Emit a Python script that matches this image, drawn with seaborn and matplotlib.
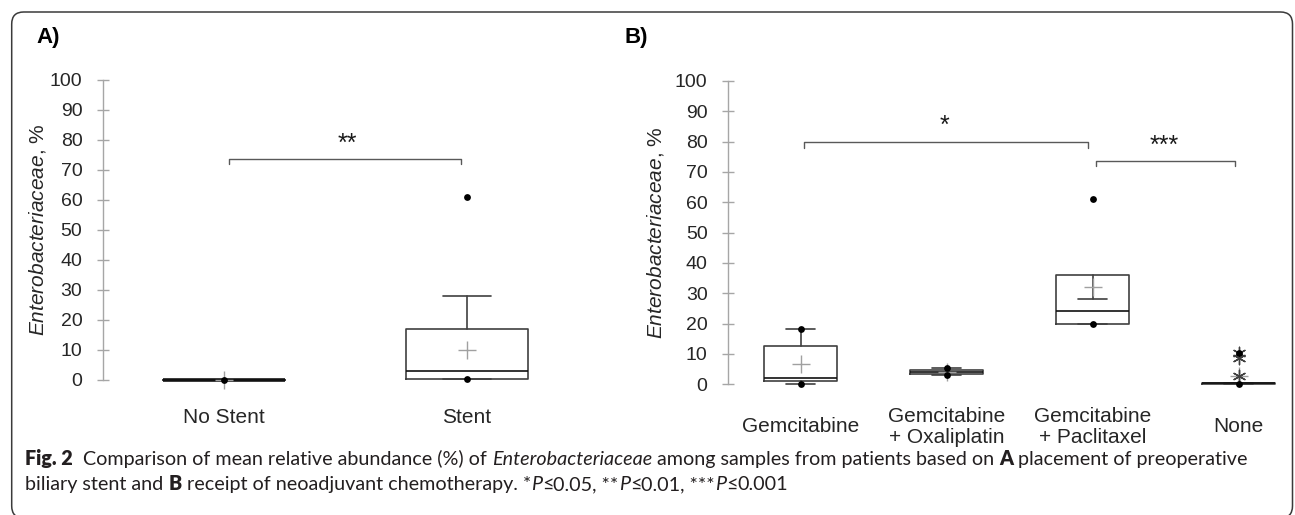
import numpy as np
import matplotlib
matplotlib.use("Agg")
import matplotlib.pyplot as plt
import seaborn as sns
from matplotlib.patches import FancyBboxPatch

# ---------------- data ----------------
# Panel A: preoperative biliary stent
a_categories = ["No Stent", "Stent"]
a_q1 = [0.0, 0.3]
a_median = [0.0, 3.0]
a_q3 = [0.0, 17.0]
a_whislo = [0.0, 0.3]
a_whishi = [0.0, 28.0]
a_mean = [0.0, 10.0]
a_point_cats = ["No Stent", "Stent", "Stent"]
a_point_vals = [0.0, 0.3, 61.0]

# Panel B: neoadjuvant chemotherapy
b_categories = ["Gemcitabine", "Gemcitabine\n+ Oxaliplatin", "Gemcitabine\n+ Paclitaxel", "None"]
b_q1 = [1.0, 3.5, 19.9, 0.2]
b_median = [2.2, 4.0, 24.2, 0.3]
b_q3 = [12.5, 4.6, 36.0, 0.4]
b_whislo = [0.0, 3.2, 19.9, 0.0]
b_whishi = [18.3, 5.3, 28.0, 0.5]
b_mean = [6.8, 4.2, 32.2, 2.7]
b_point_cats = ["Gemcitabine", "Gemcitabine", "Gemcitabine\n+ Oxaliplatin", "Gemcitabine\n+ Oxaliplatin",
                "Gemcitabine\n+ Paclitaxel", "Gemcitabine\n+ Paclitaxel", "None", "None"]
b_point_vals = [0.0, 18.3, 3.2, 5.3, 19.9, 61.0, 0.0, 10.4]
b_star_cats = ["None", "None", "None"]
b_star_vals = [10.2, 8.6, 2.7]

y_ticks = [0, 10, 20, 30, 40, 50, 60, 70, 80, 90, 100]

# significance annotations: (x_start, x_end, y_top, label, label_x, label_y)
a_sig = [(0.02, 0.975, 73.8, "**", 0.506, 76.4)]
b_sig = [(0.02, 1.97, 79.8, "*", 0.988, 83.0),
         (2.02, 2.973, 73.7, "***", 2.488, 76.4)]

# ---------------- style ----------------
sns.set_theme(style="white")
plt.rcParams["font.family"] = ["Liberation Sans", "DejaVu Sans"]
plt.rcParams["mathtext.fontset"] = "custom"
plt.rcParams["mathtext.it"] = "Liberation Sans:italic"
plt.rcParams["mathtext.rm"] = "Liberation Sans"

W, H = 1295, 515
fig = plt.figure(figsize=(W / 100, H / 100), dpi=100)
fig.patch.set_facecolor("white")

AX_GRAY = "#a6a6a6"
BOX_COL = "#404040"
TXT = "#262626"


def px_axes(left, right, bottom, top):
    return fig.add_axes([left / W, 1 - bottom / H, (right - left) / W, (bottom - top) / H])


def draw_panel(ax, cats, q1, med, q3, wlo, whi, mean, pcats, pvals, sig, label_pad, ylab_xy):
    stats = []
    for i in range(len(cats)):
        stats.append(dict(q1=q1[i], med=med[i], q3=q3[i], whislo=wlo[i], whishi=whi[i],
                          mean=mean[i], fliers=[]))
    pos = np.arange(len(cats))
    parts = ax.bxp(stats, positions=pos, widths=0.5, capwidths=0.2, showmeans=True, showfliers=False,
                   boxprops=dict(color=BOX_COL, linewidth=1.2),
                   whiskerprops=dict(color=BOX_COL, linewidth=1.2),
                   capprops=dict(color=BOX_COL, linewidth=1.2),
                   medianprops=dict(color="#111111", linewidth=1.2),
                   meanprops=dict(marker="+", markersize=13, markeredgecolor="#a0a0a0",
                                  markeredgewidth=1.0, linestyle="none"))
    # collapsed boxes (all quartiles equal) render as a heavy line
    for i in range(len(cats)):
        if q3[i] - q1[i] < 1e-9:
            parts["medians"][i].set_linewidth(2.6)
    px = np.array([cats.index(c) for c in pcats], dtype=float)
    sns.scatterplot(x=px, y=np.array(pvals), ax=ax, color="black", s=24, edgecolor="black",
                    linewidth=0, legend=False, zorder=5)
    for (x0, x1, yt, lab, lx, ly) in sig:
        ax.plot([x0, x0, x1, x1], [yt - 1.8, yt, yt, yt - 1.8], color="#595959", lw=1.0,
                clip_on=False)
        ax.text(lx, ly, lab, ha="center", va="baseline", fontsize=18, color="#1a1a1a")
    ax.set_ylim(-8, 105)
    ax.set_yticks(y_ticks)
    ax.set_yticklabels([str(t) for t in y_ticks])
    ax.set_xticks(pos)
    ax.set_xticklabels(cats, fontsize=15, color=TXT, va="center", linespacing=1.15)
    ax.tick_params(axis="x", length=0, pad=label_pad)
    ax.tick_params(axis="y", direction="inout", length=9, width=1.0, color=AX_GRAY,
                   labelsize=14, labelcolor=TXT, pad=10, left=True)
    for s in ["top", "right", "bottom"]:
        ax.spines[s].set_visible(False)
    ax.spines["left"].set_color(AX_GRAY)
    ax.spines["left"].set_linewidth(1.0)
    ax.spines["left"].set_bounds(0, 100)
    ax.set_xlabel("")
    ax.set_ylabel(r"$\mathit{Enterobacteriaceae}$, %", fontsize=15, color=TXT, va="center")
    ax.yaxis.set_label_coords(*ylab_xy)
    ax.grid(False)
    ax.set_facecolor("none")


# Panel A axes: spine at x=102.6 px, y=0 at 380 px, y=100 at 80 px
axA = px_axes(102.6, 588.6, 404, 65)
axA.set_xlim(-0.5, 1.5)
draw_panel(axA, a_categories, a_q1, a_median, a_q3, a_whislo, a_whishi, a_mean,
           a_point_cats, a_point_vals, a_sig, 10.0, (-0.133, 0.513))

# Panel B axes: spine at x=727.7 px, y=0 at 384.3 px, y=100 at 81 px
axB = px_axes(727.7, 1289.8, 408.6, 65.8)
axB.set_xlim(-0.5, 3.35)
draw_panel(axB, b_categories, b_q1, b_median, b_q3, b_whislo, b_whishi, b_mean,
           b_point_cats, b_point_vals, b_sig, 13.2, (-0.129, 0.514))
sx = np.array([b_categories.index(c) for c in b_star_cats], dtype=float)
sns.scatterplot(x=sx, y=np.array(b_star_vals), ax=axB, marker=(6, 2, 0), s=80,
                color="#404040", edgecolor="#404040", linewidth=1.0, legend=False, zorder=4)
axB.set_xlabel("")
axB.set_ylabel(r"$\mathit{Enterobacteriaceae}$, %", fontsize=15, color=TXT, va="center")
axB.yaxis.set_label_coords(-0.129, 0.514)

# panel letters
fig.text(36 / W, 1 - 38 / H, "A)", fontsize=16, fontweight="bold", ha="left", va="center", color="black")
fig.text(624 / W, 1 - 38 / H, "B)", fontsize=16, fontweight="bold", ha="left", va="center", color="black")

# rounded frame
frame = FancyBboxPatch((11.7 / 100, (H - 518) / 100), (1292.5 - 11.7) / 100, (518 - 12) / 100,
                       boxstyle="round,pad=0,rounding_size=0.12", transform=fig.dpi_scale_trans,
                       facecolor="none", edgecolor="#3a3a3a", linewidth=1.1, clip_on=False)
fig.add_artist(frame)

# caption with mixed styles
cap_family = ["Lato", "DejaVu Sans"]
cap_color = "#231f20"
line1 = [("Fig. 2", "heavy", "normal"), ("  Comparison of mean relative abundance (%) of ", "normal", "normal"),
         ("Enterobacteriaceae", "normal", "italic"),
         (" among samples from patients based on ", "normal", "normal"), ("A", "heavy", "normal"),
         (" placement of preoperative", "normal", "normal")]
line2 = [("biliary stent and ", "normal", "normal"), ("B", "heavy", "normal"),
         (" receipt of neoadjuvant chemotherapy. *", "normal", "normal"), ("P", "normal", "italic"),
         ("\u2264", "normal", "normal"), ("0.05, **", "normal", "normal"), ("P", "normal", "italic"),
         ("\u2264", "normal", "normal"), ("0.01, ***", "normal", "normal"), ("P", "normal", "italic"),
         ("\u2264", "normal", "normal"), ("0.001", "normal", "normal")]

fig.canvas.draw()
renderer = fig.canvas.get_renderer()


def run_width(runs, size):
    total = 0.0
    for txt, wt, st in runs:
        t = fig.text(0, 0, txt, fontsize=size, fontweight=wt, fontstyle=st, family=cap_family)
        total += t.get_window_extent(renderer).width
        t.remove()
    return total


base = 12.0
w = run_width(line1, base)
cap_size = base * (1218.0 / w)


def draw_runs(runs, x0, ybase, size):
    x = x0
    for txt, wt, st in runs:
        t = fig.text(x / W, 1 - ybase / H, txt, fontsize=size, fontweight=wt, fontstyle=st,
                     family=cap_family, color=cap_color, ha="left", va="baseline")
        x += t.get_window_extent(renderer).width


draw_runs(line1, 25, 465, cap_size)
draw_runs(line2, 25, 490, cap_size)

fig.savefig("out.png", dpi=100, facecolor="white")
